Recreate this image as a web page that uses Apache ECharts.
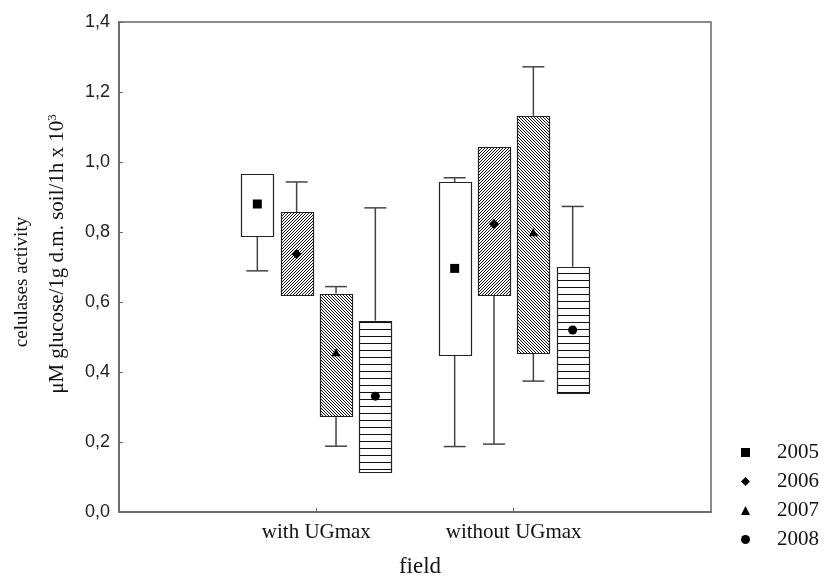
<!DOCTYPE html>
<html>
<head>
<meta charset="utf-8">
<script src="https://cdn.jsdelivr.net/npm/echarts@6/dist/echarts.min.js"></script>
<style>html,body{margin:0;padding:0;background:#fff}#c{width:827px;height:583px}</style>
</head>
<body>
<div id="c"></div>
<script>
// Category labels (padded with empty slots so groups sit at 1/3 and 2/3 of the axis)
const categories = ['', 'with UGmax', 'without UGmax', ''];
const years = ['2005', '2006', '2007', '2008'];
const yTicks = [0, 0.2, 0.4, 0.6, 0.8, 1.0, 1.2, 1.4];
// per year, per field: [whiskerMin, boxMin, mean, boxMax, whiskerMax]
const y2005 = [[0.689, 0.789, 0.880, 0.966, 0.966], [0.187, 0.448, 0.696, 0.942, 0.955]];
const y2006 = [[0.619, 0.619, 0.737, 0.856, 0.943], [0.194, 0.622, 0.823, 1.044, 1.044]];
const y2007 = [[0.188, 0.276, 0.455, 0.624, 0.644], [0.374, 0.455, 0.798, 1.132, 1.272]];
const y2008 = [[0.115, 0.115, 0.331, 0.547, 0.869], [0.341, 0.341, 0.520, 0.701, 0.873]];
const yearData = [y2005, y2006, y2007, y2008];

const SERIF = '"Liberation Serif", "DejaVu Serif", serif';
const SANS = '"Liberation Sans", Arial, sans-serif';

function makePattern(kind) {
  const c = document.createElement('canvas');
  if (kind === 'h') {
    c.width = 4; c.height = 7;
    const g = c.getContext('2d');
    g.fillStyle = '#fff'; g.fillRect(0, 0, 4, 7);
    g.fillStyle = '#111'; g.fillRect(0, 0, 4, 1);
  } else {
    const s = 3;
    c.width = s; c.height = s;
    const g = c.getContext('2d');
    g.fillStyle = '#fff'; g.fillRect(0, 0, s, s);
    g.fillStyle = '#111';
    for (let i = 0; i < s; i++) {
      if (kind === 'f') g.fillRect(i, s - 1 - i, 1, 1);
      else g.fillRect(i, i, 1, 1);
    }
  }
  return { image: c, repeat: 'repeat' };
}
const fills = ['#fff', makePattern('f'), makePattern('b'), makePattern('h')];
const offsets = [-59, -19.7, 19.7, 59];
const BOXW = 32, CAPW = 22;

function markerShape(yi, x, y) {
  const st = { fill: '#000', stroke: null };
  if (yi === 0) return { type: 'rect', shape: { x: x - 4.5, y: y - 4.5, width: 9, height: 9 }, style: st };
  if (yi === 1) return { type: 'polygon', shape: { points: [[x, y - 5], [x + 5, y], [x, y + 5], [x - 5, y]] }, style: st };
  if (yi === 2) return { type: 'polygon', shape: { points: [[x, y - 4.5], [x + 4.5, y + 3.5], [x - 4.5, y + 3.5]] }, style: st };
  return { type: 'circle', shape: { cx: x, cy: y, r: 4.5 }, style: st };
}

function makeRender(yi) {
  return function (params, api) {
    const cat = api.value(0);
    const wl = api.value(1), bl = api.value(2), m = api.value(3), bh = api.value(4), wh = api.value(5);
    const cx = api.coord([cat, m])[0] + offsets[yi];
    const py = v => api.coord([cat, v])[1];
    const lineStyle = { stroke: '#444', lineWidth: 1.5 };
    const ch = [];
    if (wl < bl) {
      ch.push({ type: 'line', shape: { x1: cx, y1: py(bl), x2: cx, y2: py(wl) }, style: lineStyle });
      ch.push({ type: 'line', shape: { x1: cx - CAPW / 2, y1: py(wl), x2: cx + CAPW / 2, y2: py(wl) }, style: lineStyle });
    }
    if (wh > bh) {
      ch.push({ type: 'line', shape: { x1: cx, y1: py(bh), x2: cx, y2: py(wh) }, style: lineStyle });
      ch.push({ type: 'line', shape: { x1: cx - CAPW / 2, y1: py(wh), x2: cx + CAPW / 2, y2: py(wh) }, style: lineStyle });
    }
    const top = py(bh), bot = py(bl);
    ch.push({ type: 'rect', shape: { x: Math.round(cx - BOXW / 2) + 0.5, y: Math.round(top) + 0.5, width: BOXW, height: Math.round(bot - top) }, style: { fill: fills[yi], stroke: '#222', lineWidth: 1.2 } });
    ch.push(markerShape(yi, cx, py(m)));
    return { type: 'group', children: ch };
  };
}

const icons = ['rect', 'diamond', 'triangle', 'circle'];
const series = years.map((yr, yi) => ({
  name: yr,
  type: 'custom',
  renderItem: makeRender(yi),
  itemStyle: { color: '#000' },
  encode: { x: 0, y: [1, 2, 3, 4, 5] },
  data: yearData[yi].map((v, ci) => [ci + 1].concat(v)),
  animation: false
}));

const chart = echarts.init(document.getElementById('c'), null, { renderer: 'canvas' });
chart.setOption({
  backgroundColor: '#fff',
  animation: false,
  grid: { left: 119, top: 22, right: 116, bottom: 71, show: true, borderColor: '#666', borderWidth: 1.5, backgroundColor: 'transparent' },
  xAxis: {
    type: 'category',
    data: categories,
    boundaryGap: false,
    name: 'field',
    nameLocation: 'middle',
    nameGap: 43,
    nameTextStyle: { fontFamily: SERIF, fontSize: 23, color: '#111', padding: [0, 0, 0, 10] },
    axisLine: { lineStyle: { color: '#666', width: 1.5 } },
    axisTick: { inside: true, length: 4, interval: (i) => i === 1 || i === 2, lineStyle: { color: '#666' } },
    axisLabel: { interval: (i) => i === 1 || i === 2, margin: 10, fontFamily: SERIF, fontSize: 21, color: '#111' },
    splitLine: { show: false }
  },
  yAxis: {
    type: 'value',
    min: yTicks[0],
    max: yTicks[yTicks.length - 1],
    interval: 0.2,
    axisLine: { show: true, lineStyle: { color: '#666', width: 1.5 } },
    axisTick: { show: true, inside: true, length: 4, lineStyle: { color: '#666' } },
    axisLabel: { margin: 9, fontFamily: SANS, fontSize: 18, color: '#222', formatter: v => v.toFixed(1).replace('.', ',') },
    splitLine: { show: false }
  },
  legend: {
    orient: 'vertical',
    left: 736,
    top: 437,
    itemWidth: 9,
    itemHeight: 9,
    itemGap: 8,
    selectedMode: false,
    textStyle: { fontFamily: SERIF, fontSize: 21, color: '#111', lineHeight: 21, padding: [0, 0, 0, 22] },
    data: years.map((y, i) => ({ name: y, icon: icons[i] }))
  },
  graphic: [
    {
      type: 'text', x: 22, y: 282, rotation: Math.PI / 2,
      style: { text: 'celulases activity', fontFamily: SERIF, fontSize: 19, fill: '#111', align: 'center', verticalAlign: 'middle' }
    },
    {
      type: 'text', x: 57, y: 254, rotation: Math.PI / 2,
      style: {
        text: '{a|μM glucose/1g d.m. soil/1h x 10}{s|3}',
        align: 'center', verticalAlign: 'middle',
        rich: {
          a: { fontFamily: SERIF, fontSize: 21, fill: '#111', color: '#111' },
          s: { fontFamily: SERIF, fontSize: 13, fill: '#111', color: '#111', verticalAlign: 'top' }
        }
      }
    }
  ],
  series: series
});
</script>
</body>
</html>
